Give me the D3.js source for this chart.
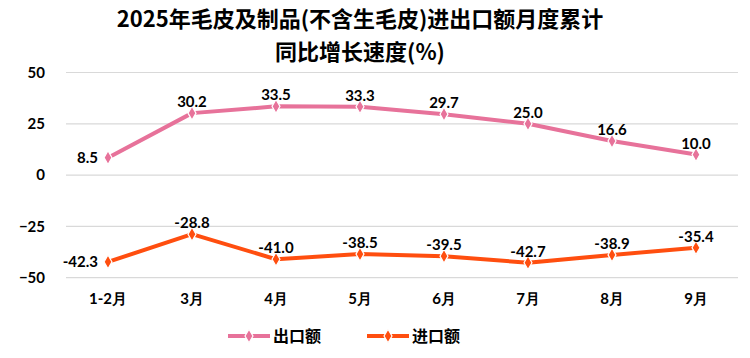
<!DOCTYPE html>
<html><head><meta charset="utf-8">
<script src="https://cdn.jsdelivr.net/npm/d3@7"></script>
<style>body{margin:0;background:#fff}svg{display:block}</style>
</head><body>
<svg id="c" width="750" height="358"></svg>
<script>
const categories = ["1-2月","3月","4月","5月","6月","7月","8月","9月"];
const exportVals = [8.5, 30.2, 33.5, 33.3, 29.7, 25.0, 16.6, 10.0];
const importVals = [-42.3, -28.8, -41.0, -38.5, -39.5, -42.7, -38.9, -35.4];
const yTicks = [50, 25, 0, -25, -50];
const seriesNames = ["出口额", "进口额"];
const titleLines = ["2025年毛皮及制品(不含生毛皮)进出口额月度累计", "同比增长速度(%)"];

const colors = ["#E7729A", "#FF4E0F"];
const numFont = "Lato, 'Noto Sans', sans-serif";
const cjkFont = "'Noto Sans CJK SC', sans-serif";

const svg = d3.select("#c");
const x = d3.scaleBand().domain(categories).range([66, 738]);
const y = d3.scaleLinear().domain([-50, 50]).range([277.7, 72.5]);

// title
svg.selectAll("text.title").data(titleLines).join("text")
  .attr("x", 360).attr("y", (d,i) => 27 + i*33)
  .attr("text-anchor", "middle")
  .style("font-family", cjkFont).style("font-weight", 700)
  .style("font-size", "22px").attr("fill", "#000")
  .text(d => d);

// grid
const grid = svg.append("g");
grid.selectAll("line").data(yTicks).join("line")
  .attr("x1", 66).attr("x2", 738)
  .attr("y1", d => y(d)).attr("y2", d => y(d))
  .attr("stroke", "#d9d9d9").attr("stroke-width", 1.2);

// y axis
const yAxis = svg.append("g").attr("transform", "translate(45,0)")
  .call(d3.axisLeft(y).tickValues(yTicks).tickSize(0).tickPadding(0));
yAxis.select(".domain").remove();
yAxis.selectAll("text").style("font-family", numFont).style("font-weight", 700)
  .style("font-size", "15px").attr("fill", "#000");

// x axis
const xAxis = svg.append("g").attr("transform", "translate(0,288)")
  .call(d3.axisBottom(x).tickSize(0).tickPadding(0));
xAxis.select(".domain").remove();
xAxis.selectAll("text").style("font-family", numFont).style("font-weight", 700)
  .style("font-size", "15px").attr("fill", "#000").attr("dy", "1.05em");

const series = [exportVals, importVals];
const cx = d => x(d) + x.bandwidth()/2;
const line = d3.line().x((d,i) => cx(categories[i])).y(d => y(d));
const diamond = d3.symbol().type(d3.symbolDiamond).size(55);

series.forEach((vals, si) => {
  const g = svg.append("g");
  g.append("path").datum(vals).attr("d", line)
    .attr("fill", "none").attr("stroke", colors[si]).attr("stroke-width", 4)
    .attr("stroke-linejoin", "round");
  g.selectAll("path.m").data(vals).join("path").attr("class","m")
    .attr("d", diamond)
    .attr("transform", (d,i) => `translate(${cx(categories[i])},${y(d)})`)
    .attr("fill", colors[si]).attr("stroke", "#fff").attr("stroke-width", 1.2);
  g.selectAll("text").data(vals).join("text")
    .attr("x", (d,i) => i === 0 ? cx(categories[i]) - 10 : cx(categories[i]))
    .attr("y", (d,i) => i === 0 ? y(d) + 5 : y(d) - 6)
    .attr("text-anchor", (d,i) => i === 0 ? "end" : "middle")
    .style("font-family", numFont).style("font-weight", 700)
    .style("font-size", "15px").attr("fill", "#000")
    .text(d => d.toFixed(1));
});

// legend
const legX = [228, 367];
seriesNames.forEach((name, si) => {
  const g = svg.append("g").attr("transform", `translate(${legX[si]},336)`);
  g.append("line").attr("x1", 0).attr("x2", 42).attr("y1", 0).attr("y2", 0)
    .attr("stroke", colors[si]).attr("stroke-width", 4);
  g.append("path").attr("d", diamond).attr("transform", "translate(21,0)")
    .attr("fill", colors[si]).attr("stroke", "#fff").attr("stroke-width", 1.2);
  g.append("text").attr("x", 45).attr("y", 6)
    .style("font-family", cjkFont).style("font-weight", 700)
    .style("font-size", "16px").attr("fill", "#000").text(name);
});
</script>
</body></html>
